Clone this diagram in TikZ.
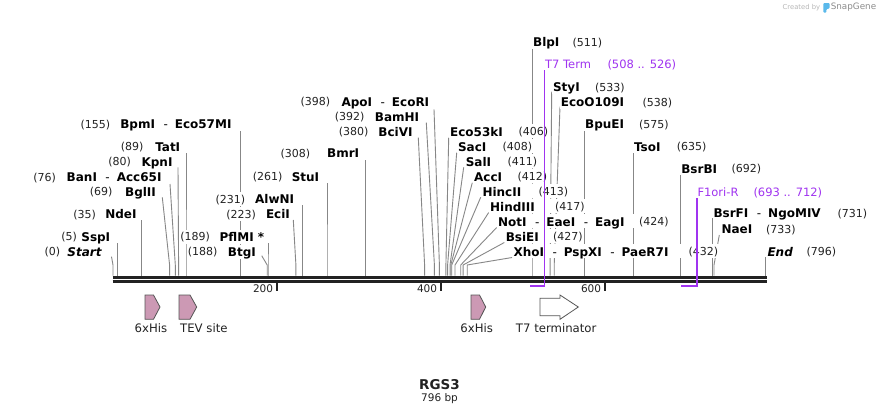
\documentclass[tikz,border=0pt]{standalone}
\usepackage{fontspec}
\setmainfont{DejaVu Sans}
\usetikzlibrary{calc}
\pgfdeclarelayer{back}
\pgfdeclarelayer{bg}
\pgfdeclarelayer{mid}
\pgfdeclarelayer{fg}
\pgfsetlayers{back,bg,mid,main,fg}
\definecolor{cutgray}{RGB}{135,135,135}
\definecolor{mapblack}{RGB}{34,34,34}
\definecolor{featpurple}{RGB}{160,52,240}
\definecolor{hispink}{RGB}{204,153,180}
\definecolor{featedge}{RGB}{85,85,85}
\definecolor{logoblue}{RGB}{90,185,235}
\tikzset{
  cutline/.style={draw=cutgray,line width=0.9pt},
  enzname/.style={font=\fontsize{12}{14}\selectfont\bfseries,text=black,inner xsep=0.6pt,inner ysep=0.5pt,text height=11pt,text depth=2.2pt},
  enznum/.style={font=\fontsize{11}{13}\selectfont,text=mapblack,inner xsep=0.6pt,inner ysep=0.5pt,text height=10pt,text depth=2pt},
  featline/.style={draw=featpurple,line width=1.6pt},
  feattext/.style={font=\fontsize{11.5}{13}\selectfont,text=featpurple,inner sep=0.6pt,text height=10pt,text depth=2pt,fill=white},
  mapbar/.style={draw=mapblack},
  ticklbl/.style={font=\fontsize{10.5}{12}\selectfont,text=mapblack,inner sep=0pt},
  hisarrow/.style={fill=hispink,draw=featedge,line width=0.8pt,line join=miter},
  termarrow/.style={fill=white,draw=featedge,line width=0.8pt},
  featlbl/.style={font=\fontsize{11.7}{13}\selectfont,text=mapblack,inner sep=0pt},
}
\newcommand\dsh{\hspace{8.5pt}{\mdseries -}\hspace{7pt}}
% left label: id, sitex, topx, topy, rightx, cy, numrightx, number, name
\newcommand\enzL[9]{%
  \coordinate (#1-s) at (#2,275.7);
  \coordinate (#1-b) at (#2,265);
  \coordinate (#1-t) at (#3,#4);
  \begin{pgfonlayer}{bg}\draw[cutline] (#1-s) -- (#1-b) -- (#1-t);\end{pgfonlayer}
  \node[enzname,anchor=east] (#1) at (#5,#6) {#9};
  \node[enznum,anchor=east] (#1n) at (#7,#6) {#8};
  \begin{pgfonlayer}{mid}\fill[white] (#1n.north west) rectangle (#1.south east);\end{pgfonlayer}
}
% right label: id, sitex, topx, topy, leftx, cy, numleftx, name, number
\newcommand\enzR[9]{%
  \coordinate (#1-s) at (#2,275.7);
  \coordinate (#1-b) at (#2,265);
  \coordinate (#1-t) at (#3,#4);
  \begin{pgfonlayer}{bg}\draw[cutline] (#1-s) -- (#1-b) -- (#1-t);\end{pgfonlayer}
  \node[enzname,anchor=west] (#1) at (#5,#6) {#8};
  \node[enznum,anchor=west] (#1n) at (#7,#6) {#9};
  \begin{pgfonlayer}{mid}\fill[white] (#1.north west) rectangle (#1n.south east);\end{pgfonlayer}
}
\begin{document}
\begin{tikzpicture}[x=1pt,y=-1pt]
\begin{pgfonlayer}{back}
\fill[white] (0,0) rectangle (880,415);
\end{pgfonlayer}
\useasboundingbox (0,0) rectangle (880,415);

% logo
\node[anchor=west,inner sep=0pt,font=\fontsize{6.8}{8}\selectfont,text=black!28] (created) at (782.5,7.6) {Created by};
\fill[logoblue,rounded corners=0.8pt] (823.3,3.2) -- (829.6,3.2) -- (829.6,8.2) -- (826.3,9.4) -- (826.3,12.6) -- (823.3,12.6) -- cycle;
\node[anchor=west,inner sep=0pt,font=\fontsize{8.8}{10}\selectfont,text=black!45] (snapgene) at (830.6,7.4) {SnapGene};

% main sequence bar
\coordinate (barL1) at (112.7,277.35);
\coordinate (barR1) at (766.5,277.35);
\coordinate (barL2) at (112.7,281.35);
\coordinate (barR2) at (766.5,281.35);
\draw[mapbar,line width=3.3pt] (barL1) -- (barR1);
\draw[mapbar,line width=2.6pt] (barL2) -- (barR2);

% ticks
\foreach \tx/\tl in {276.8/200,440.8/400,604.8/600}{
  \draw[mapblack,line width=1.8pt] (\tx,282.7) -- (\tx,290.8);
  \node[ticklbl,anchor=east] at (\tx-3.5,289) {\tl};
}

% enzymes, left-hand labels
\enzL{start}{113}{111.5}{256.7}{102.7}{251.7}{61}{(0)}{\textit{Start}}
\enzL{sspi}{117.1}{117.1}{242.7}{111}{236.7}{77.7}{(5)}{SspI}
\enzL{ndei}{141.7}{141.7}{220}{137.3}{214}{96.7}{(35)}{NdeI}
\enzL{bglii}{169.6}{162.3}{197.3}{156.7}{191.7}{113.3}{(69)}{BglII}
\enzL{bani}{175.3}{170}{184}{162.3}{177}{56.7}{(76)}{BanI\dsh Acc65I}
\enzL{kpni}{178.6}{178}{167.3}{173.3}{161.7}{131.7}{(80)}{KpnI}
\enzL{tati}{186}{186}{152.7}{181}{146.7}{144.3}{(89)}{TatI}
\enzL{bpmi}{240.1}{240.1}{130.7}{232.3}{124}{111}{(155)}{BpmI\dsh Eco57MI}
\enzL{pflmi}{268}{268}{242.7}{265}{236.7}{210.7}{(189)}{PflMI *}
\enzL{btgi}{267.2}{261.7}{255.7}{256.7}{251.7}{218.3}{(188)}{BtgI}
\enzL{ecii}{295.9}{293.3}{220}{290.7}{214}{256.7}{(223)}{EciI}
\enzL{alwni}{302.4}{302.4}{205}{295}{199}{246}{(231)}{AlwNI}
\enzL{stui}{327}{327}{183.3}{320}{176.7}{283.3}{(261)}{StuI}
\enzL{bmri}{365.6}{365.6}{160}{360}{153.3}{311}{(308)}{BmrI}
\enzL{bcivi}{424.6}{418.3}{137.7}{413.3}{131.7}{369.3}{(380)}{BciVI}
\enzL{bamhi}{434.4}{426.3}{122.7}{420}{116.7}{365.3}{(392)}{BamHI}
\enzL{apoi}{439.4}{434}{109.3}{430}{101.7}{331}{(398)}{ApoI\dsh EcoRI}

% enzymes, right-hand labels
\enzR{ecoliii}{445.9}{448.7}{137.7}{449.3}{131.7}{517.7}{Eco53kI}{(406)}
\enzR{saci}{447.6}{456.7}{152.7}{457.3}{146.7}{501.7}{SacI}{(408)}
\enzR{sali}{450}{463.7}{167.3}{465}{161.7}{506.7}{SalI}{(411)}
\enzR{acci}{450.8}{472.3}{182.7}{473.3}{176.7}{516.7}{AccI}{(412)}
\enzR{hincii}{451.7}{480.7}{197.3}{481.7}{191.7}{537.7}{HincII}{(413)}
\enzR{hindiii}{455}{488.7}{212.5}{489.3}{206.7}{554.3}{HindIII}{(417)}
\enzR{noti}{460.7}{496.7}{227.5}{497.3}{221.7}{638.3}{NotI\dsh EaeI\dsh EagI}{(424)}
\enzR{bsiei}{463.1}{504.3}{242.5}{505}{236.7}{552.3}{BsiEI}{(427)}
\enzR{xhoi}{467.2}{512}{257.5}{512.7}{251.7}{687.7}{XhoI\dsh PspXI\dsh PaeR7I}{(432)}
\enzR{blpi}{532}{532}{48.3}{532.3}{42.3}{571.7}{BlpI}{(511)}
\enzR{styi}{550.1}{551.7}{91.7}{552.3}{87.3}{594.3}{StyI}{(533)}
\enzR{ecoo}{554.2}{560}{106.7}{560}{102.3}{641.7}{EcoO109I}{(538)}
\enzR{bpuei}{584.5}{584.5}{130}{584.3}{124.3}{638.3}{BpuEI}{(575)}
\enzR{tsoi}{633.7}{633.7}{152.5}{633.3}{146.7}{676}{TsoI}{(635)}
\enzR{bsrbi}{680.4}{680.4}{175}{680.5}{168.7}{730.7}{BsrBI}{(692)}
\enzR{bsrfi}{712.4}{712.4}{218.3}{712.7}{213.3}{836.7}{BsrFI\dsh NgoMIV}{(731)}
\enzR{naei}{714}{719.3}{235}{720.7}{229}{765.3}{NaeI}{(733)}
\enzR{endl}{765.7}{765.7}{256.7}{766.7}{251.7}{805.7}{\textit{End}}{(796)}

% purple features (T7 Term, F1ori-R)
\node[feattext,anchor=west] (t7t) at (544.3,64) {T7 Term};
\node[feattext,anchor=west] (t7tn) at (606.7,64) {(508 .. 526)};
\coordinate (t7top) at (544.3,70);
\coordinate (t7bot) at (544.3,286);
\coordinate (t7end) at (529.6,286);
\node[feattext,anchor=west] (f1) at (696.7,192.3) {F1ori-R};
\node[feattext,anchor=west] (f1n) at (752.7,192.3) {(693 .. 712)};
\coordinate (f1top) at (696.7,198);
\coordinate (f1bot) at (696.7,286);
\coordinate (f1end) at (681.3,286);
\begin{pgfonlayer}{fg}
\draw[featline] (t7top) -- (t7bot) -- (t7end);
\draw[featline] (f1top) -- (f1bot) -- (f1end);
\end{pgfonlayer}

% feature arrows
\draw[hisarrow] (145,295) -- (153.5,295) -- (160,307) -- (153.5,319.3) -- (145,319.3) -- cycle;
\node[featlbl] (his1) at (151,328.3) {6xHis};
\draw[hisarrow] (179,295) -- (190,295) -- (196.7,307) -- (190,319.3) -- (179,319.3) -- cycle;
\node[featlbl,anchor=west] (tev) at (180,328.3) {TEV site};
\draw[hisarrow] (471,295) -- (479.5,295) -- (485.7,307) -- (479.5,319.3) -- (471,319.3) -- cycle;
\node[featlbl] (his2) at (476.7,328.3) {6xHis};
\draw[termarrow] (540,298.3) -- (560,298.3) -- (560,295) -- (578.3,307) -- (560,319.3) -- (560,315.7) -- (540,315.7) -- cycle;
\node[featlbl] (t7) at (556.2,328.3) {T7 terminator};

% title
\node[inner sep=0pt,font=\fontsize{13.5}{15}\selectfont\bfseries,text=mapblack] (title) at (439.5,384.3) {RGS3};
\node[inner sep=0pt,font=\fontsize{10.5}{12}\selectfont,text=mapblack] (len) at (439.5,398.6) {796 bp};
\end{tikzpicture}
\end{document}
